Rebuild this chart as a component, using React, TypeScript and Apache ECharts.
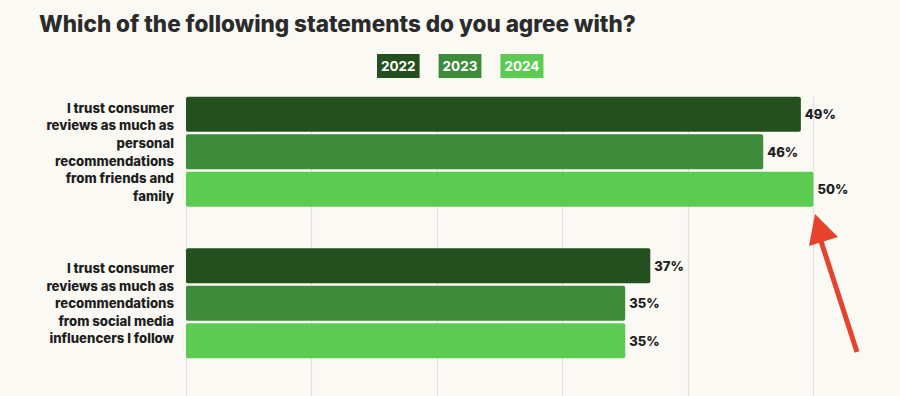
import React, { useEffect, useRef } from "react";
import * as echarts from "echarts";

const categories = [
  "I trust consumer\nreviews as much as\npersonal\nrecommendations\nfrom friends and\nfamily",
  "I trust consumer\nreviews as much as\nrecommendations\nfrom social media\ninfluencers I follow",
];
const years = ["2022", "2023", "2024"];
const values2022 = [49, 37];
const values2023 = [46, 35];
const values2024 = [50, 35];
const xMin = 0;
const xMax = 56.9;
const xInterval = 10;
const colors = ["#24501f", "#3e8b3b", "#5ccb52"];
const FONT = "Inter, 'Open Sans', sans-serif";

export default function App() {
  const ref = useRef<HTMLDivElement>(null);
  useEffect(() => {
    if (!ref.current) return;
    const chart = echarts.init(ref.current, undefined, { renderer: "svg" });
    const seriesData = [values2022, values2023, values2024];
    chart.setOption({
      animation: false,
      backgroundColor: "#faf9f4",
      textStyle: { fontFamily: FONT },
      title: {
        text: "Which of the following statements do you agree with?",
        left: 34,
        top: 7,
        textStyle: { fontFamily: FONT, fontSize: 22.5, fontWeight: 800, color: "#2b2b2b" },
      },
      legend: {
        data: years.map((y, i) => ({
          name: y,
          textStyle: {
            backgroundColor: colors[i],
            color: "#ffffff",
            padding: [5, 4, 4, 4],
          },
        })),
        left: 367,
        top: 49,
        icon: "rect",
        itemWidth: 0,
        itemHeight: 0,
        itemGap: 14,
        selectedMode: false,
        textStyle: { fontFamily: FONT, fontSize: 13.5, fontWeight: 700, lineHeight: 15 },
      },
      grid: [
        { left: 186, top: 76, right: 0, height: 303, containLabel: false },
        { left: 186, top: 97, right: 0, bottom: 0, containLabel: false },
      ],
      xAxis: [
        {
          type: "value",
          gridIndex: 0,
          min: xMin,
          max: xMax,
          interval: xInterval,
          show: false,
          splitLine: { show: false },
        },
        {
          type: "value",
          gridIndex: 1,
          min: xMin,
          max: xMax,
          interval: xInterval,
          axisLine: { show: false },
          axisTick: { show: false },
          axisLabel: { show: false },
          splitLine: { show: true, showMaxLine: false, lineStyle: { color: "#e4e2dc", width: 1.2 } },
        },
      ],
      yAxis: [
        {
          type: "category",
          gridIndex: 0,
          data: categories,
          inverse: true,
          axisLine: { show: false },
          axisTick: { show: false },
          axisLabel: {
            margin: 12,
            fontFamily: FONT,
            fontSize: 13.2,
            fontWeight: 800,
            lineHeight: 17.6,
            color: "#1e1e1e",
            align: "right",
          },
        },
        { type: "value", gridIndex: 1, min: 0, max: 1, show: false },
      ],
      series: [
        ...years.map((y, i) => ({
          name: y,
          type: "bar",
          xAxisIndex: 0,
          yAxisIndex: 0,
          data: seriesData[i],
          barWidth: 35,
          barGap: "7%",
          itemStyle: { color: colors[i], borderRadius: 2 },
          label: {
            show: true,
            position: "right",
            distance: 4,
            formatter: "{c}%",
            fontFamily: FONT,
            fontSize: 13,
            fontWeight: 800,
            color: "#1e1e1e",
          },
          z: 3,
        })),
        { type: "scatter", xAxisIndex: 1, yAxisIndex: 1, data: [], silent: true },
      ],
      graphic: [
        {
          type: "line",
          shape: { x1: 857, y1: 352, x2: 820, y2: 238 },
          style: { stroke: "#e5432e", lineWidth: 5, lineCap: "butt" },
          z: 10,
        },
        {
          type: "polygon",
          shape: { points: [[815, 214], [809, 246], [838, 237]] },
          style: { fill: "#e5432e" },
          z: 10,
        },
      ],
    });
    return () => chart.dispose();
  }, []);
  return (
    <div
      ref={ref}
      style={{ position: "fixed", left: 0, top: 0, width: 900, height: 396 }}
    />
  );
}
